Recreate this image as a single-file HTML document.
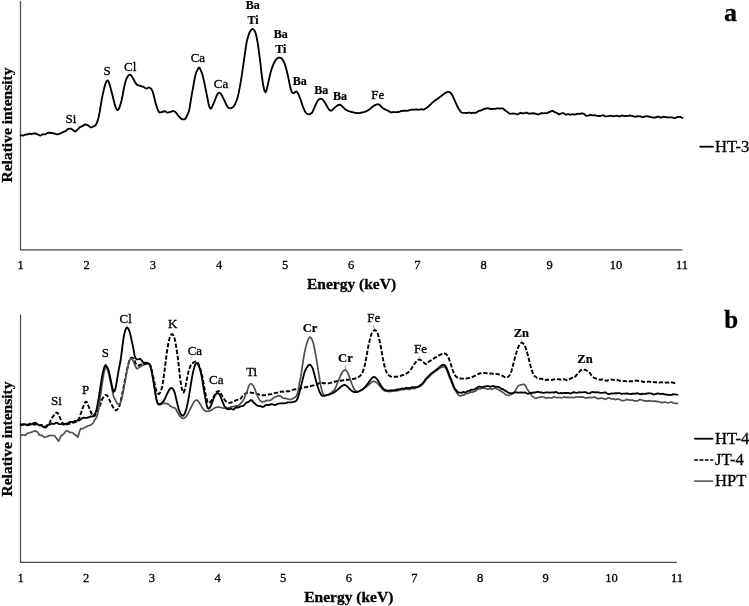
<!DOCTYPE html>
<html><head><meta charset="utf-8"><title>EDXRF spectra</title>
<style>
html,body{margin:0;padding:0;background:#fff;}
body{width:749px;height:606px;overflow:hidden;}
svg{display:block;font-family:"Liberation Serif",serif;fill:#000;}
text{stroke:#000;stroke-width:0.3px;}
.l text{text-anchor:middle;}
.b{font-weight:bold;font-size:12px;stroke-width:0.2px;}
.c{fill:none;stroke-linejoin:round;stroke-linecap:round;}
</style></head><body>
<svg width="749" height="606" viewBox="0 0 749 606">
<rect width="749" height="606" fill="#fff"/>
<!-- chart a -->
<g stroke="#4a4a4a" stroke-width="1.25" fill="none">
<path d="M20.5,1 V249.8 H682.5"/>
<path d="M20.5,314.5 V562.4 H676.8"/>
</g>
<path class="c" d="M20.6,135.5 L21.6,135.3 L22.6,135.4 L23.6,135.5 L24.6,134.9 L25.6,134.5 L26.6,134.5 L27.6,134.4 L28.6,134.0 L29.6,133.7 L30.6,133.9 L31.6,134.0 L32.6,133.7 L33.6,133.6 L34.6,133.3 L35.6,133.5 L36.6,133.8 L37.6,134.5 L38.6,134.9 L39.6,135.4 L40.6,135.5 L41.6,135.0 L42.6,134.2 L43.6,134.3 L44.6,134.4 L45.6,134.1 L46.6,133.4 L47.6,133.0 L48.6,132.7 L49.6,132.7 L50.6,133.0 L51.6,132.9 L52.6,133.2 L53.6,133.5 L54.6,133.5 L55.6,133.9 L56.6,134.3 L57.6,134.3 L58.6,133.8 L59.6,133.7 L60.6,133.5 L61.6,132.6 L62.6,132.3 L63.6,131.8 L64.6,131.4 L65.6,131.3 L66.6,130.4 L67.6,129.2 L68.6,128.8 L69.6,128.7 L70.6,128.6 L71.6,129.1 L72.6,129.7 L73.6,130.5 L74.6,131.4 L75.6,131.3 L76.6,130.5 L77.6,129.5 L78.6,128.6 L79.6,127.4 L80.6,126.8 L81.6,126.3 L82.6,126.0 L83.6,125.4 L84.6,124.5 L85.6,124.5 L86.6,124.8 L87.6,125.0 L88.6,125.8 L89.6,126.6 L90.6,127.4 L91.6,127.4 L92.6,126.9 L93.6,126.4 L94.6,125.9 L95.6,125.3 L96.6,123.4 L97.6,120.9 L98.6,117.2 L99.6,112.4 L100.6,106.5 L101.6,100.2 L102.6,95.1 L103.6,90.7 L104.6,86.7 L105.6,83.3 L106.6,81.0 L107.6,80.4 L108.6,81.5 L109.6,84.3 L110.6,88.0 L111.6,91.9 L112.6,95.8 L113.6,99.8 L114.6,103.7 L115.6,107.2 L116.6,109.2 L117.6,110.1 L118.6,109.3 L119.6,107.1 L120.6,104.0 L121.6,100.3 L122.6,95.5 L123.6,90.0 L124.6,85.3 L125.6,81.3 L126.6,78.4 L127.6,76.6 L128.6,75.3 L129.6,74.7 L130.6,75.0 L131.6,75.9 L132.6,77.6 L133.6,79.4 L134.6,81.2 L135.6,83.1 L136.6,84.5 L137.6,85.1 L138.6,85.4 L139.6,85.7 L140.6,86.0 L141.6,86.3 L142.6,86.6 L143.6,86.9 L144.6,87.6 L145.6,88.4 L146.6,88.6 L147.6,88.0 L148.6,87.5 L149.6,87.7 L150.6,88.3 L151.6,89.3 L152.6,91.3 L153.6,94.8 L154.6,99.0 L155.6,103.0 L156.6,106.4 L157.6,109.3 L158.6,111.7 L159.6,112.7 L160.6,112.4 L161.6,112.1 L162.6,111.8 L163.6,111.5 L164.6,111.2 L165.6,111.4 L166.6,112.4 L167.6,112.7 L168.6,112.4 L169.6,112.1 L170.6,111.8 L171.6,111.5 L172.6,111.2 L173.6,111.1 L174.6,111.5 L175.6,112.3 L176.6,113.4 L177.6,114.8 L178.6,116.2 L179.6,117.2 L180.6,118.2 L181.6,118.9 L182.6,119.3 L183.6,119.4 L184.6,119.3 L185.6,118.5 L186.6,116.5 L187.6,114.3 L188.6,112.0 L189.6,108.2 L190.6,101.6 L191.6,95.7 L192.6,90.1 L193.6,84.6 L194.6,79.0 L195.6,74.3 L196.6,71.7 L197.6,69.7 L198.6,67.7 L199.6,67.7 L200.6,70.0 L201.6,72.3 L202.6,75.2 L203.6,79.4 L204.6,84.0 L205.6,89.0 L206.6,94.0 L207.6,99.0 L208.6,104.0 L209.6,107.4 L210.6,108.8 L211.6,107.8 L212.6,105.6 L213.6,103.4 L214.6,101.0 L215.6,98.4 L216.6,95.8 L217.6,93.9 L218.6,92.9 L219.6,92.8 L220.6,93.5 L221.6,94.9 L222.6,96.8 L223.6,98.8 L224.6,100.8 L225.6,103.1 L226.6,105.2 L227.6,106.8 L228.6,107.8 L229.6,108.2 L230.6,108.3 L231.6,108.0 L232.6,107.4 L233.6,106.5 L234.6,105.0 L235.6,102.9 L236.6,100.5 L237.6,97.5 L238.6,93.4 L239.6,88.2 L240.6,82.6 L241.6,76.7 L242.6,69.8 L243.6,62.8 L244.6,55.8 L245.6,48.8 L246.6,42.4 L247.6,38.4 L248.6,35.1 L249.6,32.4 L250.6,30.6 L251.6,29.4 L252.6,29.0 L253.6,29.5 L254.6,30.8 L255.6,33.1 L256.6,37.0 L257.6,42.4 L258.6,49.2 L259.6,56.8 L260.6,65.2 L261.6,73.8 L262.6,81.3 L263.6,87.3 L264.6,91.2 L265.6,92.3 L266.6,90.0 L267.6,85.8 L268.6,81.3 L269.6,76.8 L270.6,72.6 L271.6,69.2 L272.6,66.3 L273.6,63.9 L274.6,61.8 L275.6,60.1 L276.6,59.0 L277.6,58.2 L278.6,57.7 L279.6,57.6 L280.6,57.9 L281.6,58.6 L282.6,59.6 L283.6,61.2 L284.6,63.5 L285.6,66.6 L286.6,70.2 L287.6,74.2 L288.6,78.9 L289.6,84.0 L290.6,88.4 L291.6,91.7 L292.6,92.9 L293.6,93.2 L294.6,92.7 L295.6,91.7 L296.6,91.5 L297.6,92.6 L298.6,94.7 L299.6,97.1 L300.6,99.7 L301.6,102.7 L302.6,105.7 L303.6,108.4 L304.6,110.7 L305.6,112.4 L306.6,113.5 L307.6,114.1 L308.6,114.3 L309.6,114.1 L310.6,113.7 L311.6,113.1 L312.6,111.7 L313.6,109.5 L314.6,107.2 L315.6,105.0 L316.6,102.7 L317.6,100.9 L318.6,99.7 L319.6,98.9 L320.6,98.6 L321.6,98.9 L322.6,99.6 L323.6,100.7 L324.6,102.1 L325.6,103.7 L326.6,105.5 L327.6,107.3 L328.6,109.0 L329.6,110.2 L330.6,110.7 L331.6,110.5 L332.6,109.7 L333.6,108.7 L334.6,107.7 L335.6,106.9 L336.6,106.1 L337.6,105.4 L338.6,104.8 L339.6,104.7 L340.6,105.0 L341.6,105.8 L342.6,106.7 L343.6,107.7 L344.6,108.7 L345.6,109.5 L346.6,110.2 L347.6,110.7 L348.6,111.1 L349.6,111.4 L350.6,111.7 L351.6,112.0 L352.6,112.2 L353.6,112.5 L354.6,112.7 L355.6,112.9 L356.6,113.0 L357.6,113.1 L358.6,113.1 L359.6,113.0 L360.6,112.8 L361.6,112.5 L362.6,112.3 L363.6,112.1 L364.6,111.8 L365.6,111.5 L366.6,111.1 L367.6,110.6 L368.6,109.9 L369.6,109.2 L370.6,108.4 L371.6,107.5 L372.6,106.7 L373.6,106.0 L374.6,105.4 L375.6,104.9 L376.6,104.5 L377.6,104.3 L378.6,104.4 L379.6,104.9 L380.6,105.8 L381.6,107.0 L382.6,107.9 L383.6,108.6 L384.6,109.1 L385.6,109.8 L386.6,110.1 L387.6,110.5 L388.6,111.1 L389.6,111.6 L390.6,112.2 L391.6,112.5 L392.6,112.1 L393.6,112.0 L394.6,112.2 L395.6,112.3 L396.6,112.1 L397.6,112.0 L398.6,112.0 L399.6,111.7 L400.6,111.2 L401.6,111.0 L402.6,110.9 L403.6,110.7 L404.6,110.7 L405.6,110.7 L406.6,110.9 L407.6,110.7 L408.6,110.5 L409.6,110.2 L410.6,109.9 L411.6,109.6 L412.6,109.6 L413.6,109.8 L414.6,109.5 L415.6,109.7 L416.6,109.5 L417.6,109.7 L418.6,109.6 L419.6,109.7 L420.6,109.4 L421.6,109.2 L422.6,109.6 L423.6,109.6 L424.6,109.1 L425.6,108.5 L426.6,107.9 L427.6,107.1 L428.6,106.4 L429.6,105.3 L430.6,104.4 L431.6,103.4 L432.6,102.4 L433.6,101.6 L434.6,100.8 L435.6,100.0 L436.6,99.4 L437.6,98.7 L438.6,98.0 L439.6,97.3 L440.6,96.6 L441.6,95.8 L442.6,95.0 L443.6,94.2 L444.6,93.4 L445.6,92.8 L446.6,92.3 L447.6,91.9 L448.6,91.9 L449.6,92.2 L450.6,93.0 L451.6,94.0 L452.6,95.7 L453.6,98.0 L454.6,100.2 L455.6,102.5 L456.6,104.7 L457.6,106.8 L458.6,108.7 L459.6,110.3 L460.6,111.6 L461.6,112.5 L462.6,112.9 L463.6,112.8 L464.6,112.8 L465.6,112.9 L466.6,113.0 L467.6,112.9 L468.6,112.7 L469.6,112.6 L470.6,112.8 L471.6,113.2 L472.6,112.8 L473.6,112.6 L474.6,112.9 L475.6,112.9 L476.6,112.2 L477.6,111.7 L478.6,111.2 L479.6,110.7 L480.6,110.6 L481.6,110.2 L482.6,109.7 L483.6,109.2 L484.6,109.0 L485.6,108.6 L486.6,108.3 L487.6,108.1 L488.6,108.3 L489.6,108.9 L490.6,108.9 L491.6,109.0 L492.6,108.9 L493.6,108.8 L494.6,108.8 L495.6,108.8 L496.6,108.4 L497.6,108.3 L498.6,108.3 L499.6,108.6 L500.6,108.5 L501.6,108.4 L502.6,108.4 L503.6,108.8 L504.6,110.0 L505.6,110.8 L506.6,111.4 L507.6,112.1 L508.6,112.9 L509.6,113.6 L510.6,113.8 L511.6,113.6 L512.6,113.7 L513.6,113.4 L514.6,113.7 L515.6,113.9 L516.6,114.2 L517.6,114.4 L518.6,114.0 L519.6,113.1 L520.6,112.8 L521.6,113.2 L522.6,113.2 L523.6,113.3 L524.6,113.3 L525.6,112.7 L526.6,112.6 L527.6,113.2 L528.6,113.5 L529.6,113.6 L530.6,113.5 L531.6,113.3 L532.6,113.2 L533.6,113.5 L534.6,113.5 L535.6,113.6 L536.6,114.2 L537.6,114.4 L538.6,114.3 L539.6,113.8 L540.6,113.5 L541.6,113.2 L542.6,113.2 L543.6,113.3 L544.6,113.1 L545.6,113.2 L546.6,113.2 L547.6,113.1 L548.6,112.2 L549.6,112.0 L550.6,111.5 L551.6,111.2 L552.6,110.9 L553.6,111.4 L554.6,112.1 L555.6,112.5 L556.6,112.9 L557.6,113.4 L558.6,114.2 L559.6,114.2 L560.6,113.7 L561.6,113.5 L562.6,113.1 L563.6,113.1 L564.6,113.9 L565.6,114.6 L566.6,114.5 L567.6,114.1 L568.6,114.1 L569.6,114.6 L570.6,114.6 L571.6,114.4 L572.6,114.3 L573.6,114.3 L574.6,114.5 L575.6,114.3 L576.6,114.0 L577.6,113.7 L578.6,113.8 L579.6,113.7 L580.6,113.8 L581.6,113.3 L582.6,113.4 L583.6,113.8 L584.6,114.4 L585.6,115.4 L586.6,115.8 L587.6,115.7 L588.6,115.6 L589.6,115.2 L590.6,114.7 L591.6,115.1 L592.6,115.3 L593.6,115.3 L594.6,115.1 L595.6,115.3 L596.6,115.6 L597.6,116.0 L598.6,116.0 L599.6,115.9 L600.6,116.0 L601.6,115.5 L602.6,115.3 L603.6,115.3 L604.6,116.1 L605.6,116.4 L606.6,116.4 L607.6,116.2 L608.6,115.9 L609.6,115.8 L610.6,115.7 L611.6,115.8 L612.6,116.0 L613.6,116.4 L614.6,116.2 L615.6,115.9 L616.6,115.6 L617.6,115.8 L618.6,116.4 L619.6,116.3 L620.6,116.0 L621.6,115.7 L622.6,115.5 L623.6,115.9 L624.6,116.1 L625.6,116.0 L626.6,115.9 L627.6,115.8 L628.6,115.8 L629.6,115.5 L630.6,115.7 L631.6,115.8 L632.6,116.2 L633.6,116.2 L634.6,116.6 L635.6,116.8 L636.6,116.4 L637.6,116.2 L638.6,116.3 L639.6,116.3 L640.6,116.3 L641.6,116.8 L642.6,117.2 L643.6,116.8 L644.6,116.5 L645.6,116.3 L646.6,116.4 L647.6,116.2 L648.6,116.4 L649.6,116.9 L650.6,116.9 L651.6,117.4 L652.6,117.6 L653.6,117.5 L654.6,117.5 L655.6,117.6 L656.6,117.1 L657.6,116.6 L658.6,116.6 L659.6,117.1 L660.6,117.6 L661.6,117.5 L662.6,116.9 L663.6,116.7 L664.6,116.9 L665.6,117.2 L666.6,117.2 L667.6,117.3 L668.6,117.4 L669.6,117.3 L670.6,117.3 L671.6,117.4 L672.6,117.6 L673.6,117.9 L674.6,118.2 L675.6,117.9 L676.6,117.4 L677.6,116.9 L678.6,117.0 L679.6,116.7 L680.6,117.0 L681.6,117.6 L682.6,117.8" stroke="#000" stroke-width="1.85"/>
<g font-size="12.5px"><text x="20.5" y="269.2" text-anchor="middle">1</text><text x="86.7" y="269.2" text-anchor="middle">2</text><text x="152.8" y="269.2" text-anchor="middle">3</text><text x="219.0" y="269.2" text-anchor="middle">4</text><text x="285.1" y="269.2" text-anchor="middle">5</text><text x="351.2" y="269.2" text-anchor="middle">6</text><text x="417.4" y="269.2" text-anchor="middle">7</text><text x="483.6" y="269.2" text-anchor="middle">8</text><text x="549.7" y="269.2" text-anchor="middle">9</text><text x="615.9" y="269.2" text-anchor="middle">10</text><text x="682.0" y="269.2" text-anchor="middle">11</text></g>
<g class="l" font-size="13px"><text x="71.0" y="123.2">Si</text><text x="107.2" y="75.0">S</text><text x="130.2" y="71.0">Cl</text><text x="197.9" y="62.4">Ca</text><text x="221.0" y="87.8">Ca</text><text class="b" x="252.8" y="8.7">Ba</text><text class="b" x="253.0" y="24.1">Ti</text><text class="b" x="280.8" y="38.1">Ba</text><text class="b" x="280.9" y="52.7">Ti</text><text class="b" x="299.8" y="84.7">Ba</text><text class="b" x="321.2" y="93.7">Ba</text><text class="b" x="340.0" y="99.7">Ba</text><text x="377.8" y="99.1">Fe</text></g>
<text x="351.5" y="288.9" text-anchor="middle" font-weight="bold" font-size="15.5px">Energy (keV)</text>
<text transform="translate(12,125) rotate(-90)" text-anchor="middle" font-weight="bold" font-size="15.5px">Relative intensity</text>
<text x="730.5" y="21" text-anchor="middle" font-weight="bold" font-size="26px">a</text>
<path d="M699.5,146.7 H713.8" stroke="#000" stroke-width="1.8" fill="none"/>
<text x="715" y="152" font-size="16.6px">HT-3</text>
<!-- chart b -->
<path class="c" d="M20.6,425.4 L21.6,425.2 L22.6,424.8 L23.6,424.6 L24.6,424.6 L25.6,424.6 L26.6,424.5 L27.6,424.6 L28.6,424.6 L29.6,423.8 L30.6,423.7 L31.6,423.7 L32.6,424.1 L33.6,424.5 L34.6,424.5 L35.6,424.6 L36.6,424.4 L37.6,425.0 L38.6,425.1 L39.6,425.4 L40.6,425.3 L41.6,424.9 L42.6,425.5 L43.6,426.4 L44.6,426.9 L45.6,426.5 L46.6,425.8 L47.6,424.9 L48.6,424.3 L49.6,423.0 L50.6,420.5 L51.6,418.7 L52.6,417.1 L53.6,415.7 L54.6,414.5 L55.6,413.2 L56.6,412.5 L57.6,412.8 L58.6,414.6 L59.6,416.8 L60.6,419.1 L61.6,421.2 L62.6,423.2 L63.6,424.7 L64.6,425.1 L65.6,425.0 L66.6,424.7 L67.6,424.4 L68.6,423.9 L69.6,423.5 L70.6,423.2 L71.6,423.0 L72.6,422.7 L73.6,422.5 L74.6,422.2 L75.6,422.0 L76.6,421.7 L77.6,421.1 L78.6,419.3 L79.6,417.1 L80.6,414.2 L81.6,411.2 L82.6,408.4 L83.6,406.0 L84.6,403.5 L85.6,401.6 L86.6,401.9 L87.6,404.0 L88.6,406.5 L89.6,409.0 L90.6,411.4 L91.6,413.7 L92.6,415.5 L93.6,416.4 L94.6,415.9 L95.6,414.6 L96.6,412.8 L97.6,410.8 L98.6,408.7 L99.6,406.5 L100.6,403.7 L101.6,400.5 L102.6,398.5 L103.6,397.1 L104.6,395.9 L105.6,395.1 L106.6,395.1 L107.6,396.2 L108.6,398.0 L109.6,400.3 L110.6,402.6 L111.6,404.5 L112.6,406.3 L113.6,408.0 L114.6,409.5 L115.6,410.4 L116.6,410.1 L117.6,409.3 L118.6,407.9 L119.6,405.4 L120.6,401.9 L121.6,397.0 L122.6,392.0 L123.6,387.0 L124.6,382.0 L125.6,377.0 L126.6,372.0 L127.6,367.2 L128.6,363.1 L129.6,359.9 L130.6,358.1 L131.6,357.6 L132.6,357.7 L133.6,358.8 L134.6,360.7 L135.6,363.1 L136.6,365.0 L137.6,365.6 L138.6,365.5 L139.6,365.2 L140.6,364.7 L141.6,364.2 L142.6,363.5 L143.6,362.7 L144.6,362.6 L145.6,362.7 L146.6,362.8 L147.6,362.9 L148.6,363.0 L149.6,364.3 L150.6,366.1 L151.6,369.5 L152.6,374.1 L153.6,378.8 L154.6,383.5 L155.6,387.9 L156.6,391.3 L157.6,393.1 L158.6,394.0 L159.6,393.6 L160.6,391.6 L161.6,388.7 L162.6,384.6 L163.6,378.0 L164.6,370.3 L165.6,362.4 L166.6,354.2 L167.6,347.6 L168.6,342.2 L169.6,338.0 L170.6,335.5 L171.6,334.2 L172.6,334.3 L173.6,335.6 L174.6,338.3 L175.6,343.1 L176.6,349.3 L177.6,356.2 L178.6,364.2 L179.6,373.8 L180.6,381.6 L181.6,387.4 L182.6,391.3 L183.6,392.6 L184.6,390.2 L185.6,385.9 L186.6,381.0 L187.6,375.5 L188.6,371.0 L189.6,368.0 L190.6,365.6 L191.6,364.0 L192.6,363.1 L193.6,362.4 L194.6,361.8 L195.6,361.4 L196.6,361.5 L197.6,362.4 L198.6,364.0 L199.6,366.7 L200.6,370.1 L201.6,373.7 L202.6,377.9 L203.6,383.3 L204.6,388.9 L205.6,394.5 L206.6,398.9 L207.6,402.1 L208.6,403.1 L209.6,402.8 L210.6,401.7 L211.6,400.4 L212.6,398.9 L213.6,397.0 L214.6,395.1 L215.6,393.4 L216.6,392.0 L217.6,391.3 L218.6,391.0 L219.6,391.5 L220.6,392.9 L221.6,394.7 L222.6,396.5 L223.6,398.2 L224.6,399.8 L225.6,400.9 L226.6,401.8 L227.6,402.2 L228.6,402.6 L229.6,402.8 L230.6,402.7 L231.6,402.3 L232.6,401.8 L233.6,401.2 L234.6,400.8 L235.6,400.5 L236.6,400.1 L237.6,399.7 L238.6,399.5 L239.6,399.2 L240.6,398.6 L241.6,397.5 L242.6,396.0 L243.6,394.8 L244.6,394.0 L245.6,393.5 L246.6,392.8 L247.6,392.5 L248.6,392.4 L249.6,392.4 L250.6,392.5 L251.6,392.9 L252.6,392.9 L253.6,393.0 L254.6,393.3 L255.6,393.7 L256.6,393.9 L257.6,394.0 L258.6,394.3 L259.6,394.7 L260.6,394.9 L261.6,395.1 L262.6,395.3 L263.6,395.3 L264.6,395.2 L265.6,395.2 L266.6,395.1 L267.6,394.8 L268.6,394.5 L269.6,394.4 L270.6,394.3 L271.6,394.1 L272.6,393.6 L273.6,393.5 L274.6,393.1 L275.6,392.9 L276.6,392.8 L277.6,392.6 L278.6,392.3 L279.6,392.0 L280.6,391.8 L281.6,391.6 L282.6,391.5 L283.6,391.8 L284.6,391.7 L285.6,391.6 L286.6,391.3 L287.6,391.3 L288.6,391.3 L289.6,391.1 L290.6,390.7 L291.6,390.2 L292.6,389.9 L293.6,389.6 L294.6,389.4 L295.6,389.3 L296.6,389.2 L297.6,389.0 L298.6,389.0 L299.6,388.9 L300.6,388.4 L301.6,388.1 L302.6,387.9 L303.6,387.7 L304.6,387.4 L305.6,387.2 L306.6,387.0 L307.6,386.7 L308.6,386.5 L309.6,386.3 L310.6,386.1 L311.6,385.8 L312.6,385.6 L313.6,385.4 L314.6,385.2 L315.6,385.0 L316.6,384.7 L317.6,384.3 L318.6,383.4 L319.6,382.8 L320.6,382.7 L321.6,382.9 L322.6,383.0 L323.6,383.2 L324.6,383.3 L325.6,383.4 L326.6,383.4 L327.6,383.4 L328.6,383.3 L329.6,383.1 L330.6,382.9 L331.6,382.6 L332.6,382.3 L333.6,382.0 L334.6,381.7 L335.6,381.5 L336.6,381.3 L337.6,381.1 L338.6,381.0 L339.6,380.8 L340.6,380.7 L341.6,380.5 L342.6,380.4 L343.6,380.2 L344.6,380.1 L345.6,379.9 L346.6,379.8 L347.6,379.7 L348.6,379.6 L349.6,379.4 L350.6,379.3 L351.6,379.2 L352.6,379.0 L353.6,378.9 L354.6,378.7 L355.6,378.4 L356.6,378.0 L357.6,377.5 L358.6,377.0 L359.6,376.3 L360.6,375.4 L361.6,374.0 L362.6,372.2 L363.6,369.4 L364.6,366.0 L365.6,361.7 L366.6,356.1 L367.6,350.2 L368.6,345.0 L369.6,340.6 L370.6,336.4 L371.6,333.6 L372.6,331.8 L373.6,330.5 L374.6,330.0 L375.6,330.3 L376.6,331.4 L377.6,333.2 L378.6,336.6 L379.6,340.8 L380.6,345.7 L381.6,351.1 L382.6,356.8 L383.6,362.1 L384.6,366.6 L385.6,370.0 L386.6,372.4 L387.6,374.2 L388.6,375.2 L389.6,375.8 L390.6,376.3 L391.6,376.6 L392.6,376.8 L393.6,376.8 L394.6,376.8 L395.6,376.8 L396.6,376.7 L397.6,376.6 L398.6,376.4 L399.6,376.2 L400.6,375.9 L401.6,375.5 L402.6,375.2 L403.6,374.8 L404.6,374.4 L405.6,373.9 L406.6,373.4 L407.6,372.8 L408.6,372.1 L409.6,371.2 L410.6,369.8 L411.6,368.3 L412.6,366.7 L413.6,365.1 L414.6,363.6 L415.6,362.3 L416.6,361.2 L417.6,360.2 L418.6,359.6 L419.6,359.6 L420.6,359.9 L421.6,360.7 L422.6,361.5 L423.6,362.4 L424.6,363.4 L425.6,364.0 L426.6,363.8 L427.6,363.1 L428.6,362.1 L429.6,361.3 L430.6,360.6 L431.6,359.9 L432.6,359.2 L433.6,358.6 L434.6,357.9 L435.6,357.3 L436.6,356.8 L437.6,356.2 L438.6,355.7 L439.6,355.2 L440.6,354.7 L441.6,354.2 L442.6,353.8 L443.6,353.5 L444.6,353.4 L445.6,353.7 L446.6,354.6 L447.6,356.0 L448.6,357.9 L449.6,360.6 L450.6,363.7 L451.6,366.8 L452.6,369.8 L453.6,372.5 L454.6,374.5 L455.6,376.2 L456.6,377.2 L457.6,377.7 L458.6,378.1 L459.6,378.4 L460.6,378.5 L461.6,378.6 L462.6,378.6 L463.6,378.6 L464.6,378.6 L465.6,378.5 L466.6,378.4 L467.6,378.3 L468.6,378.1 L469.6,377.9 L470.6,377.7 L471.6,377.3 L472.6,376.9 L473.6,376.4 L474.6,375.9 L475.6,375.3 L476.6,374.8 L477.6,374.3 L478.6,373.9 L479.6,373.5 L480.6,373.2 L481.6,373.0 L482.6,373.0 L483.6,373.0 L484.6,373.0 L485.6,373.1 L486.6,373.2 L487.6,373.3 L488.6,373.4 L489.6,373.5 L490.6,373.5 L491.6,373.6 L492.6,373.7 L493.6,373.8 L494.6,373.8 L495.6,373.9 L496.6,374.0 L497.6,374.1 L498.6,374.4 L499.6,374.7 L500.6,375.0 L501.6,375.4 L502.6,375.9 L503.6,376.5 L504.6,377.1 L505.6,377.5 L506.6,377.7 L507.6,377.3 L508.6,376.4 L509.6,375.3 L510.6,373.7 L511.6,370.5 L512.6,366.7 L513.6,362.9 L514.6,359.1 L515.6,355.4 L516.6,351.9 L517.6,348.8 L518.6,346.4 L519.6,344.6 L520.6,343.3 L521.6,342.7 L522.6,343.0 L523.6,343.9 L524.6,345.2 L525.6,347.8 L526.6,350.8 L527.6,354.2 L528.6,358.3 L529.6,362.4 L530.6,366.3 L531.6,369.6 L532.6,372.3 L533.6,374.7 L534.6,376.2 L535.6,376.7 L536.6,377.7 L537.6,378.6 L538.6,378.7 L539.6,378.8 L540.6,378.7 L541.6,378.8 L542.6,379.2 L543.6,380.0 L544.6,380.4 L545.6,380.1 L546.6,379.7 L547.6,379.8 L548.6,379.8 L549.6,379.9 L550.6,379.9 L551.6,379.9 L552.6,379.8 L553.6,379.5 L554.6,379.3 L555.6,379.1 L556.6,379.2 L557.6,379.1 L558.6,379.3 L559.6,379.4 L560.6,379.6 L561.6,379.6 L562.6,379.2 L563.6,379.2 L564.6,379.4 L565.6,379.9 L566.6,380.1 L567.6,379.8 L568.6,379.3 L569.6,379.1 L570.6,378.5 L571.6,378.2 L572.6,377.4 L573.6,376.8 L574.6,376.9 L575.6,376.3 L576.6,374.9 L577.6,373.8 L578.6,372.7 L579.6,371.6 L580.6,370.4 L581.6,369.8 L582.6,369.5 L583.6,369.3 L584.6,369.6 L585.6,370.0 L586.6,370.7 L587.6,371.0 L588.6,371.8 L589.6,372.6 L590.6,374.0 L591.6,375.6 L592.6,376.6 L593.6,377.5 L594.6,378.0 L595.6,378.3 L596.6,378.6 L597.6,379.0 L598.6,379.3 L599.6,379.7 L600.6,379.7 L601.6,379.5 L602.6,379.5 L603.6,379.7 L604.6,380.0 L605.6,380.5 L606.6,380.8 L607.6,380.5 L608.6,380.1 L609.6,379.8 L610.6,379.6 L611.6,379.6 L612.6,379.6 L613.6,379.9 L614.6,380.1 L615.6,380.3 L616.6,380.2 L617.6,380.1 L618.6,380.2 L619.6,380.8 L620.6,381.0 L621.6,381.2 L622.6,381.1 L623.6,381.1 L624.6,380.9 L625.6,381.1 L626.6,381.3 L627.6,380.9 L628.6,381.2 L629.6,381.4 L630.6,381.3 L631.6,381.3 L632.6,381.2 L633.6,380.9 L634.6,380.8 L635.6,380.6 L636.6,380.6 L637.6,380.7 L638.6,381.0 L639.6,381.1 L640.6,381.2 L641.6,381.2 L642.6,381.8 L643.6,382.0 L644.6,381.8 L645.6,381.5 L646.6,381.6 L647.6,381.7 L648.6,381.6 L649.6,381.5 L650.6,382.1 L651.6,382.4 L652.6,381.9 L653.6,382.1 L654.6,382.2 L655.6,382.2 L656.6,382.3 L657.6,382.1 L658.6,382.3 L659.6,382.6 L660.6,382.4 L661.6,382.2 L662.6,382.4 L663.6,382.5 L664.6,382.8 L665.6,382.5 L666.6,382.6 L667.6,382.5 L668.6,382.6 L669.6,382.4 L670.6,382.0 L671.6,382.3 L672.6,382.5 L673.6,382.8 L674.6,383.1 L675.4,382.8" stroke="#000" stroke-width="1.9" stroke-dasharray="4.4 1.8" style="stroke-linecap:butt"/>
<path class="c" d="M20.6,435.4 L21.6,435.2 L22.6,434.8 L23.6,435.0 L24.6,435.3 L25.6,435.3 L26.6,434.0 L27.6,433.3 L28.6,433.0 L29.6,433.0 L30.6,432.4 L31.6,432.1 L32.6,431.8 L33.6,431.3 L34.6,431.1 L35.6,431.1 L36.6,431.4 L37.6,432.4 L38.6,433.9 L39.6,435.1 L40.6,435.3 L41.6,435.2 L42.6,435.9 L43.6,436.8 L44.6,437.2 L45.6,437.0 L46.6,436.6 L47.6,436.5 L48.6,435.9 L49.6,435.4 L50.6,435.5 L51.6,435.8 L52.6,435.5 L53.6,435.5 L54.6,435.8 L55.6,437.2 L56.6,438.3 L57.6,440.0 L58.6,441.1 L59.6,438.8 L60.6,436.8 L61.6,435.5 L62.6,434.8 L63.6,434.1 L64.6,432.7 L65.6,431.4 L66.6,430.9 L67.6,430.9 L68.6,431.6 L69.6,432.3 L70.6,432.4 L71.6,432.5 L72.6,432.6 L73.6,433.6 L74.6,434.6 L75.6,435.0 L76.6,435.9 L77.6,437.2 L78.6,434.8 L79.6,431.2 L80.6,428.7 L81.6,428.5 L82.6,428.8 L83.6,428.2 L84.6,427.7 L85.6,427.1 L86.6,426.7 L87.6,426.0 L88.6,425.5 L89.6,425.4 L90.6,425.2 L91.6,424.4 L92.6,423.6 L93.6,422.1 L94.6,420.2 L95.6,418.8 L96.6,417.1 L97.6,414.2 L98.6,408.8 L99.6,402.5 L100.6,394.7 L101.6,387.7 L102.6,380.8 L103.6,374.5 L104.6,370.3 L105.6,366.0 L106.6,366.6 L107.6,369.9 L108.6,373.3 L109.6,377.8 L110.6,382.6 L111.6,387.3 L112.6,392.1 L113.6,396.3 L114.6,398.7 L115.6,400.7 L116.6,402.4 L117.6,403.7 L118.6,404.4 L119.6,404.3 L120.6,402.7 L121.6,399.7 L122.6,395.2 L123.6,389.9 L124.6,384.3 L125.6,378.6 L126.6,372.9 L127.6,367.9 L128.6,363.4 L129.6,360.2 L130.6,358.6 L131.6,358.6 L132.6,359.8 L133.6,361.9 L134.6,364.3 L135.6,366.6 L136.6,368.6 L137.6,368.7 L138.6,367.9 L139.6,367.1 L140.6,366.5 L141.6,365.9 L142.6,365.5 L143.6,365.0 L144.6,364.6 L145.6,364.2 L146.6,363.9 L147.6,363.5 L148.6,363.6 L149.6,364.9 L150.6,367.0 L151.6,371.4 L152.6,376.5 L153.6,382.3 L154.6,388.9 L155.6,395.1 L156.6,400.5 L157.6,403.6 L158.6,404.7 L159.6,404.5 L160.6,404.8 L161.6,404.1 L162.6,403.5 L163.6,403.3 L164.6,403.3 L165.6,403.3 L166.6,403.7 L167.6,403.9 L168.6,404.2 L169.6,405.5 L170.6,406.3 L171.6,406.8 L172.6,407.3 L173.6,407.8 L174.6,407.8 L175.6,408.7 L176.6,410.5 L177.6,412.5 L178.6,413.9 L179.6,415.8 L180.6,416.9 L181.6,417.8 L182.6,418.4 L183.6,418.5 L184.6,417.9 L185.6,417.0 L186.6,415.9 L187.6,414.3 L188.6,412.4 L189.6,410.4 L190.6,408.3 L191.6,406.3 L192.6,404.4 L193.6,402.6 L194.6,401.1 L195.6,400.3 L196.6,400.0 L197.6,400.6 L198.6,401.6 L199.6,403.1 L200.6,404.9 L201.6,406.7 L202.6,408.5 L203.6,409.8 L204.6,410.4 L205.6,411.0 L206.6,411.4 L207.6,411.4 L208.6,411.2 L209.6,411.0 L210.6,410.6 L211.6,409.9 L212.6,409.3 L213.6,408.6 L214.6,408.1 L215.6,407.6 L216.6,407.3 L217.6,407.1 L218.6,407.0 L219.6,407.1 L220.6,407.4 L221.6,407.7 L222.6,408.0 L223.6,408.1 L224.6,408.0 L225.6,408.2 L226.6,408.2 L227.6,408.1 L228.6,407.7 L229.6,407.5 L230.6,407.1 L231.6,406.8 L232.6,406.6 L233.6,406.5 L234.6,406.3 L235.6,405.9 L236.6,405.8 L237.6,406.0 L238.6,405.4 L239.6,404.5 L240.6,403.4 L241.6,402.4 L242.6,401.4 L243.6,399.6 L244.6,397.8 L245.6,394.9 L246.6,392.6 L247.6,389.7 L248.6,386.4 L249.6,384.6 L250.6,383.9 L251.6,384.0 L252.6,384.9 L253.6,386.3 L254.6,388.5 L255.6,391.3 L256.6,393.8 L257.6,396.3 L258.6,398.2 L259.6,400.1 L260.6,401.0 L261.6,402.0 L262.6,401.9 L263.6,401.6 L264.6,401.5 L265.6,401.0 L266.6,400.6 L267.6,400.3 L268.6,400.5 L269.6,400.5 L270.6,400.2 L271.6,399.4 L272.6,398.8 L273.6,397.9 L274.6,397.2 L275.6,396.9 L276.6,396.5 L277.6,395.8 L278.6,395.6 L279.6,395.8 L280.6,396.3 L281.6,396.8 L282.6,397.8 L283.6,398.1 L284.6,398.4 L285.6,398.3 L286.6,398.6 L287.6,398.9 L288.6,399.0 L289.6,399.6 L290.6,399.5 L291.6,399.4 L292.6,398.7 L293.6,397.9 L294.6,397.4 L295.6,397.1 L296.6,395.8 L297.6,392.8 L298.6,388.8 L299.6,382.5 L300.6,377.5 L301.6,371.5 L302.6,364.7 L303.6,358.0 L304.6,352.1 L305.6,347.9 L306.6,344.1 L307.6,341.0 L308.6,338.6 L309.6,337.1 L310.6,337.3 L311.6,338.8 L312.6,340.9 L313.6,344.2 L314.6,349.0 L315.6,354.4 L316.6,360.2 L317.6,366.3 L318.6,372.7 L319.6,379.0 L320.6,384.9 L321.6,389.5 L322.6,392.6 L323.6,394.7 L324.6,395.6 L325.6,395.4 L326.6,395.1 L327.6,394.8 L328.6,394.4 L329.6,393.9 L330.6,393.2 L331.6,392.3 L332.6,391.5 L333.6,390.7 L334.6,389.5 L335.6,387.7 L336.6,385.2 L337.6,382.7 L338.6,380.2 L339.6,377.9 L340.6,375.5 L341.6,373.5 L342.6,371.8 L343.6,370.7 L344.6,370.1 L345.6,370.2 L346.6,371.1 L347.6,372.6 L348.6,374.9 L349.6,377.5 L350.6,380.4 L351.6,383.2 L352.6,385.8 L353.6,388.2 L354.6,389.9 L355.6,390.8 L356.6,391.3 L357.6,391.6 L358.6,391.5 L359.6,391.1 L360.6,390.6 L361.6,390.1 L362.6,389.5 L363.6,388.9 L364.6,388.1 L365.6,387.3 L366.6,386.5 L367.6,385.7 L368.6,384.9 L369.6,384.0 L370.6,383.1 L371.6,382.3 L372.6,381.7 L373.6,381.4 L374.6,381.5 L375.6,381.9 L376.6,382.7 L377.6,383.6 L378.6,384.7 L379.6,385.8 L380.6,387.0 L381.6,388.2 L382.6,389.3 L383.6,390.2 L384.6,391.0 L385.6,390.9 L386.6,391.1 L387.6,391.3 L388.6,391.5 L389.6,391.7 L390.6,391.5 L391.6,391.4 L392.6,391.1 L393.6,391.1 L394.6,391.0 L395.6,390.9 L396.6,390.9 L397.6,390.8 L398.6,390.5 L399.6,390.1 L400.6,389.8 L401.6,389.7 L402.6,389.6 L403.6,389.5 L404.6,389.3 L405.6,389.1 L406.6,388.8 L407.6,389.1 L408.6,389.4 L409.6,389.4 L410.6,389.0 L411.6,388.7 L412.6,388.4 L413.6,388.5 L414.6,388.7 L415.6,388.4 L416.6,387.7 L417.6,387.2 L418.6,386.9 L419.6,386.5 L420.6,386.0 L421.6,385.3 L422.6,384.4 L423.6,383.1 L424.6,381.7 L425.6,380.2 L426.6,379.1 L427.6,378.1 L428.6,377.1 L429.6,376.1 L430.6,375.1 L431.6,374.2 L432.6,373.4 L433.6,372.7 L434.6,371.9 L435.6,371.2 L436.6,370.5 L437.6,369.8 L438.6,369.1 L439.6,368.4 L440.6,367.7 L441.6,367.2 L442.6,366.8 L443.6,366.7 L444.6,367.1 L445.6,368.1 L446.6,369.9 L447.6,372.3 L448.6,375.1 L449.6,377.8 L450.6,380.2 L451.6,382.5 L452.6,385.2 L453.6,387.8 L454.6,389.8 L455.6,390.4 L456.6,392.5 L457.6,394.0 L458.6,395.2 L459.6,395.9 L460.6,395.9 L461.6,395.3 L462.6,395.4 L463.6,395.2 L464.6,394.5 L465.6,393.9 L466.6,393.7 L467.6,393.4 L468.6,393.4 L469.6,392.4 L470.6,392.1 L471.6,392.1 L472.6,392.1 L473.6,391.8 L474.6,391.5 L475.6,390.9 L476.6,390.3 L477.6,389.2 L478.6,389.0 L479.6,388.8 L480.6,388.8 L481.6,388.5 L482.6,388.1 L483.6,388.1 L484.6,388.4 L485.6,388.4 L486.6,388.6 L487.6,389.2 L488.6,389.2 L489.6,388.4 L490.6,388.7 L491.6,389.3 L492.6,389.0 L493.6,388.5 L494.6,388.2 L495.6,388.2 L496.6,388.7 L497.6,389.2 L498.6,390.0 L499.6,390.3 L500.6,390.9 L501.6,391.5 L502.6,392.3 L503.6,392.8 L504.6,393.7 L505.6,394.6 L506.6,395.0 L507.6,395.3 L508.6,395.3 L509.6,395.1 L510.6,394.8 L511.6,394.3 L512.6,393.7 L513.6,392.6 L514.6,391.8 L515.6,390.2 L516.6,388.4 L517.6,386.9 L518.6,385.7 L519.6,385.3 L520.6,384.8 L521.6,384.8 L522.6,384.5 L523.6,384.2 L524.6,384.8 L525.6,385.8 L526.6,387.9 L527.6,389.8 L528.6,391.1 L529.6,392.1 L530.6,393.7 L531.6,395.5 L532.6,396.5 L533.6,397.1 L534.6,397.8 L535.6,398.4 L536.6,398.1 L537.6,397.6 L538.6,397.5 L539.6,397.4 L540.6,397.0 L541.6,396.8 L542.6,397.0 L543.6,397.0 L544.6,397.4 L545.6,397.9 L546.6,398.3 L547.6,397.7 L548.6,397.6 L549.6,397.7 L550.6,398.0 L551.6,398.1 L552.6,397.6 L553.6,397.1 L554.6,396.8 L555.6,397.2 L556.6,397.7 L557.6,397.7 L558.6,397.4 L559.6,397.5 L560.6,397.7 L561.6,397.8 L562.6,397.5 L563.6,397.2 L564.6,396.9 L565.6,397.2 L566.6,397.7 L567.6,397.2 L568.6,397.4 L569.6,397.6 L570.6,397.5 L571.6,397.4 L572.6,397.6 L573.6,397.6 L574.6,397.4 L575.6,396.9 L576.6,397.0 L577.6,396.8 L578.6,396.9 L579.6,397.1 L580.6,397.2 L581.6,397.1 L582.6,396.9 L583.6,397.3 L584.6,397.7 L585.6,397.9 L586.6,397.9 L587.6,397.6 L588.6,397.6 L589.6,397.7 L590.6,397.4 L591.6,397.6 L592.6,397.5 L593.6,397.3 L594.6,397.1 L595.6,397.4 L596.6,398.1 L597.6,398.6 L598.6,398.7 L599.6,398.4 L600.6,398.2 L601.6,398.1 L602.6,398.4 L603.6,398.6 L604.6,399.1 L605.6,399.3 L606.6,398.7 L607.6,398.0 L608.6,397.8 L609.6,397.9 L610.6,398.4 L611.6,399.1 L612.6,399.0 L613.6,398.8 L614.6,399.3 L615.6,399.6 L616.6,399.2 L617.6,399.0 L618.6,399.1 L619.6,399.6 L620.6,400.0 L621.6,400.4 L622.6,400.6 L623.6,400.6 L624.6,400.5 L625.6,400.0 L626.6,399.4 L627.6,399.6 L628.6,399.9 L629.6,400.0 L630.6,400.2 L631.6,400.0 L632.6,400.1 L633.6,400.7 L634.6,400.8 L635.6,400.8 L636.6,401.0 L637.6,400.9 L638.6,400.3 L639.6,399.5 L640.6,399.7 L641.6,400.0 L642.6,400.3 L643.6,400.8 L644.6,401.1 L645.6,400.8 L646.6,400.8 L647.6,401.3 L648.6,400.9 L649.6,400.7 L650.6,401.0 L651.6,401.2 L652.6,401.2 L653.6,401.3 L654.6,401.1 L655.6,401.1 L656.6,401.4 L657.6,401.7 L658.6,401.5 L659.6,401.8 L660.6,402.2 L661.6,402.8 L662.6,402.3 L663.6,402.4 L664.6,402.1 L665.6,402.2 L666.6,402.5 L667.6,402.8 L668.6,402.8 L669.6,402.5 L670.6,402.1 L671.6,402.1 L672.6,402.6 L673.6,403.0 L674.6,403.3 L675.6,403.3 L676.6,403.4 L677.4,403.4" stroke="#505050" stroke-width="1.7"/>
<path class="c" d="M20.6,424.3 L21.6,424.4 L22.6,424.4 L23.6,424.1 L24.6,424.2 L25.6,424.3 L26.6,425.1 L27.6,425.4 L28.6,425.2 L29.6,424.6 L30.6,424.5 L31.6,424.1 L32.6,423.7 L33.6,423.2 L34.6,422.7 L35.6,422.8 L36.6,423.6 L37.6,424.3 L38.6,425.0 L39.6,425.5 L40.6,425.1 L41.6,425.6 L42.6,426.5 L43.6,427.1 L44.6,427.3 L45.6,427.5 L46.6,426.7 L47.6,425.4 L48.6,424.8 L49.6,424.7 L50.6,424.2 L51.6,423.4 L52.6,423.9 L53.6,423.9 L54.6,423.8 L55.6,423.0 L56.6,422.8 L57.6,422.9 L58.6,424.0 L59.6,424.1 L60.6,424.4 L61.6,424.0 L62.6,423.9 L63.6,423.6 L64.6,423.9 L65.6,424.0 L66.6,423.5 L67.6,423.5 L68.6,422.8 L69.6,422.0 L70.6,421.8 L71.6,421.8 L72.6,421.8 L73.6,421.6 L74.6,421.2 L75.6,421.0 L76.6,420.6 L77.6,420.3 L78.6,420.5 L79.6,420.2 L80.6,419.2 L81.6,418.8 L82.6,418.1 L83.6,417.7 L84.6,417.9 L85.6,417.8 L86.6,418.0 L87.6,417.5 L88.6,417.3 L89.6,416.8 L90.6,416.5 L91.6,416.6 L92.6,416.3 L93.6,415.5 L94.6,414.4 L95.6,412.6 L96.6,409.5 L97.6,404.4 L98.6,398.7 L99.6,392.2 L100.6,386.0 L101.6,379.4 L102.6,373.9 L103.6,369.6 L104.6,366.4 L105.6,365.0 L106.6,366.2 L107.6,368.1 L108.6,370.4 L109.6,374.8 L110.6,379.5 L111.6,384.1 L112.6,388.7 L113.6,391.9 L114.6,391.0 L115.6,388.0 L116.6,382.4 L117.6,376.4 L118.6,370.4 L119.6,365.5 L120.6,360.5 L121.6,352.8 L122.6,344.9 L123.6,337.6 L124.6,332.6 L125.6,329.2 L126.6,327.5 L127.6,327.7 L128.6,329.2 L129.6,331.6 L130.6,335.7 L131.6,340.3 L132.6,344.9 L133.6,349.6 L134.6,355.5 L135.6,358.4 L136.6,359.4 L137.6,359.3 L138.6,359.2 L139.6,359.0 L140.6,359.2 L141.6,360.3 L142.6,361.9 L143.6,363.3 L144.6,364.0 L145.6,363.7 L146.6,363.4 L147.6,363.2 L148.6,363.5 L149.6,364.6 L150.6,366.7 L151.6,371.0 L152.6,376.1 L153.6,381.8 L154.6,388.4 L155.6,394.6 L156.6,400.0 L157.6,403.2 L158.6,404.2 L159.6,404.2 L160.6,403.7 L161.6,403.1 L162.6,402.3 L163.6,401.1 L164.6,399.3 L165.6,397.2 L166.6,394.9 L167.6,392.8 L168.6,390.8 L169.6,389.2 L170.6,388.3 L171.6,387.9 L172.6,388.5 L173.6,390.1 L174.6,392.3 L175.6,396.3 L176.6,400.6 L177.6,404.8 L178.6,408.6 L179.6,411.7 L180.6,413.9 L181.6,415.2 L182.6,415.8 L183.6,415.3 L184.6,413.8 L185.6,411.4 L186.6,407.9 L187.6,403.4 L188.6,398.1 L189.6,392.3 L190.6,386.0 L191.6,379.9 L192.6,374.3 L193.6,369.9 L194.6,366.3 L195.6,363.8 L196.6,363.1 L197.6,363.9 L198.6,365.6 L199.6,368.2 L200.6,371.5 L201.6,376.1 L202.6,381.9 L203.6,388.3 L204.6,394.1 L205.6,399.6 L206.6,404.9 L207.6,407.9 L208.6,408.7 L209.6,408.1 L210.6,406.5 L211.6,404.1 L212.6,401.3 L213.6,398.5 L214.6,396.1 L215.6,394.5 L216.6,393.5 L217.6,393.1 L218.6,393.3 L219.6,394.7 L220.6,396.8 L221.6,399.2 L222.6,401.9 L223.6,404.5 L224.6,406.6 L225.6,407.3 L226.6,408.6 L227.6,409.2 L228.6,409.3 L229.6,408.8 L230.6,408.4 L231.6,409.0 L232.6,409.4 L233.6,409.5 L234.6,408.5 L235.6,407.6 L236.6,407.1 L237.6,407.7 L238.6,407.3 L239.6,406.9 L240.6,406.4 L241.6,406.2 L242.6,406.0 L243.6,405.7 L244.6,404.5 L245.6,403.3 L246.6,402.6 L247.6,402.1 L248.6,401.8 L249.6,401.1 L250.6,400.1 L251.6,400.1 L252.6,401.3 L253.6,402.8 L254.6,403.2 L255.6,404.4 L256.6,405.1 L257.6,405.8 L258.6,405.9 L259.6,406.1 L260.6,406.1 L261.6,406.6 L262.6,407.0 L263.6,406.7 L264.6,406.0 L265.6,405.2 L266.6,404.8 L267.6,404.9 L268.6,405.0 L269.6,404.8 L270.6,404.4 L271.6,404.1 L272.6,404.3 L273.6,404.6 L274.6,405.0 L275.6,405.0 L276.6,404.3 L277.6,403.8 L278.6,403.6 L279.6,403.4 L280.6,403.3 L281.6,403.3 L282.6,403.2 L283.6,403.4 L284.6,403.3 L285.6,403.2 L286.6,402.8 L287.6,402.5 L288.6,402.3 L289.6,402.3 L290.6,402.3 L291.6,402.3 L292.6,402.1 L293.6,401.7 L294.6,401.6 L295.6,401.3 L296.6,400.4 L297.6,398.5 L298.6,395.3 L299.6,391.8 L300.6,387.8 L301.6,383.7 L302.6,379.7 L303.6,375.6 L304.6,372.0 L305.6,369.7 L306.6,367.9 L307.6,366.4 L308.6,365.2 L309.6,364.7 L310.6,365.2 L311.6,366.4 L312.6,368.1 L313.6,371.5 L314.6,375.3 L315.6,379.2 L316.6,382.9 L317.6,386.2 L318.6,389.2 L319.6,391.9 L320.6,393.8 L321.6,395.3 L322.6,395.8 L323.6,395.9 L324.6,395.7 L325.6,395.4 L326.6,395.2 L327.6,394.9 L328.6,394.6 L329.6,394.3 L330.6,394.0 L331.6,393.6 L332.6,393.2 L333.6,392.7 L334.6,392.1 L335.6,391.3 L336.6,390.5 L337.6,389.7 L338.6,388.9 L339.6,388.0 L340.6,387.0 L341.6,386.3 L342.6,385.6 L343.6,385.1 L344.6,385.0 L345.6,385.3 L346.6,385.9 L347.6,386.7 L348.6,387.8 L349.6,388.8 L350.6,389.9 L351.6,390.8 L352.6,391.4 L353.6,391.8 L354.6,392.0 L355.6,392.1 L356.6,392.0 L357.6,391.8 L358.6,391.4 L359.6,391.0 L360.6,390.5 L361.6,389.9 L362.6,389.2 L363.6,388.4 L364.6,387.4 L365.6,386.3 L366.6,385.1 L367.6,383.9 L368.6,382.6 L369.6,381.1 L370.6,379.8 L371.6,378.4 L372.6,377.5 L373.6,377.0 L374.6,377.1 L375.6,377.6 L376.6,378.6 L377.6,379.9 L378.6,381.5 L379.6,383.3 L380.6,385.0 L381.6,386.5 L382.6,387.8 L383.6,388.9 L384.6,389.7 L385.6,390.1 L386.6,390.6 L387.6,390.7 L388.6,390.7 L389.6,390.5 L390.6,390.4 L391.6,390.2 L392.6,390.3 L393.6,390.3 L394.6,390.1 L395.6,389.9 L396.6,389.5 L397.6,389.4 L398.6,389.4 L399.6,389.2 L400.6,388.9 L401.6,388.5 L402.6,388.6 L403.6,388.7 L404.6,388.5 L405.6,388.0 L406.6,387.8 L407.6,388.1 L408.6,388.1 L409.6,387.9 L410.6,387.9 L411.6,387.4 L412.6,387.2 L413.6,387.2 L414.6,387.3 L415.6,387.2 L416.6,387.1 L417.6,387.0 L418.6,386.5 L419.6,385.6 L420.6,385.0 L421.6,384.3 L422.6,383.4 L423.6,382.1 L424.6,380.7 L425.6,379.2 L426.6,378.1 L427.6,377.1 L428.6,376.1 L429.6,375.1 L430.6,374.1 L431.6,373.2 L432.6,372.4 L433.6,371.7 L434.6,371.0 L435.6,370.2 L436.6,369.5 L437.6,368.7 L438.6,367.9 L439.6,367.0 L440.6,366.1 L441.6,365.3 L442.6,364.8 L443.6,364.7 L444.6,365.1 L445.6,366.1 L446.6,367.9 L447.6,370.3 L448.6,373.1 L449.6,375.8 L450.6,378.2 L451.6,380.5 L452.6,383.2 L453.6,385.8 L454.6,387.9 L455.6,389.4 L456.6,391.0 L457.6,392.0 L458.6,392.5 L459.6,392.6 L460.6,392.7 L461.6,392.7 L462.6,392.3 L463.6,392.0 L464.6,392.3 L465.6,392.1 L466.6,391.8 L467.6,391.1 L468.6,390.9 L469.6,390.6 L470.6,390.1 L471.6,389.6 L472.6,389.7 L473.6,389.7 L474.6,389.3 L475.6,388.6 L476.6,388.1 L477.6,387.5 L478.6,386.6 L479.6,386.6 L480.6,386.9 L481.6,387.1 L482.6,387.1 L483.6,386.9 L484.6,386.5 L485.6,386.3 L486.6,386.2 L487.6,386.0 L488.6,386.2 L489.6,386.5 L490.6,386.7 L491.6,386.3 L492.6,386.1 L493.6,386.2 L494.6,386.5 L495.6,386.6 L496.6,386.8 L497.6,386.6 L498.6,386.9 L499.6,387.5 L500.6,388.4 L501.6,388.9 L502.6,389.0 L503.6,389.6 L504.6,390.4 L505.6,390.9 L506.6,391.3 L507.6,392.2 L508.6,392.8 L509.6,393.1 L510.6,393.1 L511.6,393.3 L512.6,393.1 L513.6,393.0 L514.6,392.4 L515.6,392.3 L516.6,392.4 L517.6,392.5 L518.6,392.7 L519.6,392.6 L520.6,392.4 L521.6,392.5 L522.6,392.6 L523.6,392.7 L524.6,392.5 L525.6,392.7 L526.6,393.3 L527.6,393.7 L528.6,393.6 L529.6,393.1 L530.6,393.0 L531.6,393.0 L532.6,392.7 L533.6,392.4 L534.6,392.5 L535.6,392.5 L536.6,392.1 L537.6,391.8 L538.6,391.9 L539.6,392.4 L540.6,392.4 L541.6,392.5 L542.6,392.7 L543.6,392.8 L544.6,392.6 L545.6,392.6 L546.6,392.3 L547.6,392.3 L548.6,392.4 L549.6,392.7 L550.6,392.6 L551.6,392.4 L552.6,392.4 L553.6,392.5 L554.6,392.5 L555.6,392.0 L556.6,392.1 L557.6,392.7 L558.6,393.4 L559.6,393.3 L560.6,393.0 L561.6,393.1 L562.6,393.3 L563.6,392.9 L564.6,392.8 L565.6,393.0 L566.6,393.0 L567.6,392.9 L568.6,392.9 L569.6,393.4 L570.6,393.5 L571.6,393.1 L572.6,392.7 L573.6,392.2 L574.6,392.5 L575.6,392.6 L576.6,392.8 L577.6,392.7 L578.6,392.4 L579.6,392.1 L580.6,392.3 L581.6,392.3 L582.6,392.3 L583.6,392.2 L584.6,392.1 L585.6,392.1 L586.6,392.8 L587.6,393.1 L588.6,393.4 L589.6,393.4 L590.6,392.8 L591.6,392.1 L592.6,392.0 L593.6,392.1 L594.6,392.3 L595.6,392.4 L596.6,392.2 L597.6,392.4 L598.6,392.4 L599.6,392.7 L600.6,392.8 L601.6,392.8 L602.6,392.8 L603.6,392.6 L604.6,392.5 L605.6,392.5 L606.6,393.1 L607.6,393.9 L608.6,394.2 L609.6,394.0 L610.6,393.6 L611.6,393.4 L612.6,393.6 L613.6,393.4 L614.6,393.3 L615.6,393.2 L616.6,393.2 L617.6,393.2 L618.6,393.1 L619.6,393.1 L620.6,393.5 L621.6,394.0 L622.6,393.7 L623.6,393.6 L624.6,393.7 L625.6,393.6 L626.6,393.3 L627.6,393.5 L628.6,393.8 L629.6,393.9 L630.6,393.9 L631.6,394.0 L632.6,393.7 L633.6,393.7 L634.6,393.6 L635.6,393.8 L636.6,393.2 L637.6,393.3 L638.6,393.5 L639.6,394.0 L640.6,394.2 L641.6,394.2 L642.6,393.7 L643.6,393.8 L644.6,393.8 L645.6,393.7 L646.6,393.7 L647.6,393.4 L648.6,393.1 L649.6,393.3 L650.6,393.3 L651.6,393.7 L652.6,394.1 L653.6,394.4 L654.6,394.5 L655.6,394.1 L656.6,393.6 L657.6,393.5 L658.6,393.6 L659.6,393.7 L660.6,394.0 L661.6,393.8 L662.6,393.7 L663.6,394.2 L664.6,394.4 L665.6,394.5 L666.6,394.6 L667.6,394.7 L668.6,394.8 L669.6,395.0 L670.6,394.9 L671.6,394.8 L672.6,394.5 L673.6,394.2 L674.6,394.3 L675.6,394.5 L676.6,394.6 L677.4,394.6" stroke="#000" stroke-width="1.85"/>
<g stroke="#777" stroke-width="0.8" fill="none">
<path d="M345.4,365.8 V370"/><path d="M373.2,325 L375,330"/><path d="M521.4,339.5 V342.7"/><path d="M419.8,356.8 L418.4,359.4"/>
</g>
<g font-size="12.5px"><text x="20.5" y="582" text-anchor="middle">1</text><text x="86.2" y="582" text-anchor="middle">2</text><text x="151.8" y="582" text-anchor="middle">3</text><text x="217.5" y="582" text-anchor="middle">4</text><text x="283.1" y="582" text-anchor="middle">5</text><text x="348.8" y="582" text-anchor="middle">6</text><text x="414.4" y="582" text-anchor="middle">7</text><text x="480.1" y="582" text-anchor="middle">8</text><text x="545.7" y="582" text-anchor="middle">9</text><text x="611.4" y="582" text-anchor="middle">10</text><text x="677.0" y="582" text-anchor="middle">11</text></g>
<g class="l" font-size="13px"><text x="56.5" y="405.4">Si</text><text x="85.6" y="394.4">P</text><text x="105.3" y="357.4">S</text><text x="125.7" y="323.0">Cl</text><text x="172.8" y="327.8">K</text><text x="194.9" y="354.8">Ca</text><text x="216.2" y="384.4">Ca</text><text x="251.7" y="376.1">Ti</text><text class="b" style="font-size:12.6px" x="310.0" y="332.3">Cr</text><text class="b" style="font-size:12.6px" x="345.4" y="362.4">Cr</text><text x="373.8" y="322.0">Fe</text><text x="420.5" y="352.8">Fe</text><text class="b" style="font-size:12.5px" x="521.4" y="336.7">Zn</text><text class="b" style="font-size:12.5px" x="585.0" y="363.1">Zn</text></g>
<text x="348.8" y="602" text-anchor="middle" font-weight="bold" font-size="15.5px">Energy (keV)</text>
<text transform="translate(12,439) rotate(-90)" text-anchor="middle" font-weight="bold" font-size="15.5px">Relative intensity</text>
<text x="731.3" y="327.5" text-anchor="middle" font-weight="bold" font-size="25px">b</text>
<path d="M694.2,438.7 H713.3" stroke="#000" stroke-width="1.8" fill="none"/>
<path d="M694.2,460 H713.3" stroke="#000" stroke-width="1.6" stroke-dasharray="3.9 1.43" fill="none"/>
<path d="M694.2,481.1 H713.3" stroke="#505050" stroke-width="1.6" fill="none"/>
<text x="715" y="443.6" font-size="16.6px">HT-4</text>
<text x="715" y="464.8" font-size="16.6px">JT-4</text>
<text x="715" y="486" font-size="16.6px">HPT</text>
</svg>
</body></html>
